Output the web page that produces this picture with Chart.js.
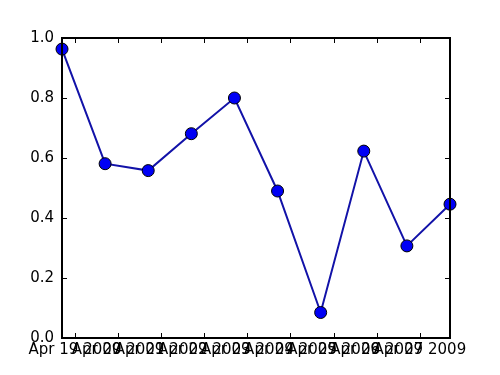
<!DOCTYPE html>
<html>
<head>
<meta charset="utf-8">
<script src="https://cdn.jsdelivr.net/npm/chart.js@4/dist/chart.umd.min.js"></script>
<style>
  html, body { margin: 0; padding: 0; background: #fff; }
  #wrap { width: 500px; height: 375px; }
</style>
</head>
<body>
<div id="wrap"><canvas id="chart" width="500" height="375"></canvas></div>
<script>
// point times, in days counted from Apr 19 2009 00:00
const pointDays = [-0.3, 0.7, 1.7, 2.7, 3.7, 4.7, 5.7, 6.7, 7.7, 8.7];
const values = [0.963, 0.581, 0.558, 0.681, 0.800, 0.490, 0.085, 0.623, 0.307, 0.446];
const tickDays = [0, 1, 2, 3, 4, 5, 6, 7, 8];
const tickLabels = ['Apr 19 2009', 'Apr 20 2009', 'Apr 21 2009', 'Apr 22 2009', 'Apr 23 2009',
                    'Apr 24 2009', 'Apr 25 2009', 'Apr 26 2009', 'Apr 27 2009'];
const yTicks = [0, 0.2, 0.4, 0.6, 0.8, 1.0];

const font = { family: 'DejaVu Sans', size: 15 };

// frame and inward ticks like the original
const framePlugin = {
    id: 'frame',
    afterDraw(chart) {
        const ctx = chart.ctx;
        const a = chart.chartArea;
        const xs = chart.scales.x, ys = chart.scales.y;
        ctx.save();
        ctx.strokeStyle = '#000';
        ctx.lineWidth = 1;
        ctx.beginPath();
        tickDays.forEach(d => {
            const px = Math.round(xs.getPixelForValue(d)) + 0.5;
            ctx.moveTo(px, a.bottom); ctx.lineTo(px, a.bottom - 5);
            ctx.moveTo(px, a.top); ctx.lineTo(px, a.top + 5);
        });
        yTicks.forEach(v => {
            const py = Math.round(ys.getPixelForValue(v)) + 0.5;
            ctx.moveTo(a.left, py); ctx.lineTo(a.left + 5, py);
            ctx.moveTo(a.right, py); ctx.lineTo(a.right - 5, py);
        });
        ctx.stroke();
        ctx.lineWidth = 2;
        ctx.strokeRect(a.left, a.top, a.right - a.left, a.bottom - a.top);
        ctx.restore();
    }
};

new Chart(document.getElementById('chart'), {
    type: 'line',
    data: {
        datasets: [{
            data: pointDays.map((d, i) => ({ x: d, y: values[i] })),
            borderColor: '#1212a8',
            borderWidth: 2,
            pointRadius: 6,
            pointBackgroundColor: '#0000f5',
            pointBorderColor: '#000',
            pointBorderWidth: 1,
            tension: 0,
            clip: false
        }]
    },
    options: {
        responsive: false,
        animation: false,
        layout: { padding: { top: 38, right: 50, left: 0, bottom: 0 } },
        plugins: { legend: { display: false }, tooltip: { enabled: false } },
        scales: {
            x: {
                type: 'linear',
                min: pointDays[0],
                max: pointDays[pointDays.length - 1],
                afterBuildTicks(scale) { scale.ticks = tickDays.map(v => ({ value: v })); },
                afterFit(scale) { scale.height = 37; },
                grid: { display: false, drawTicks: false },
                border: { display: false },
                ticks: {
                    autoSkip: false, maxRotation: 0, padding: 3,
                    color: '#000', font: font,
                    callback: (v) => tickLabels[tickDays.indexOf(v)]
                }
            },
            y: {
                min: 0, max: 1,
                afterBuildTicks(scale) { scale.ticks = yTicks.map(v => ({ value: v })); },
                afterFit(scale) { scale.width = 62; },
                grid: { display: false, drawTicks: false },
                border: { display: false },
                ticks: {
                    padding: 8, color: '#000', font: font,
                    callback: (v) => v.toFixed(1)
                }
            }
        }
    },
    plugins: [framePlugin]
});
</script>
</body>
</html>
